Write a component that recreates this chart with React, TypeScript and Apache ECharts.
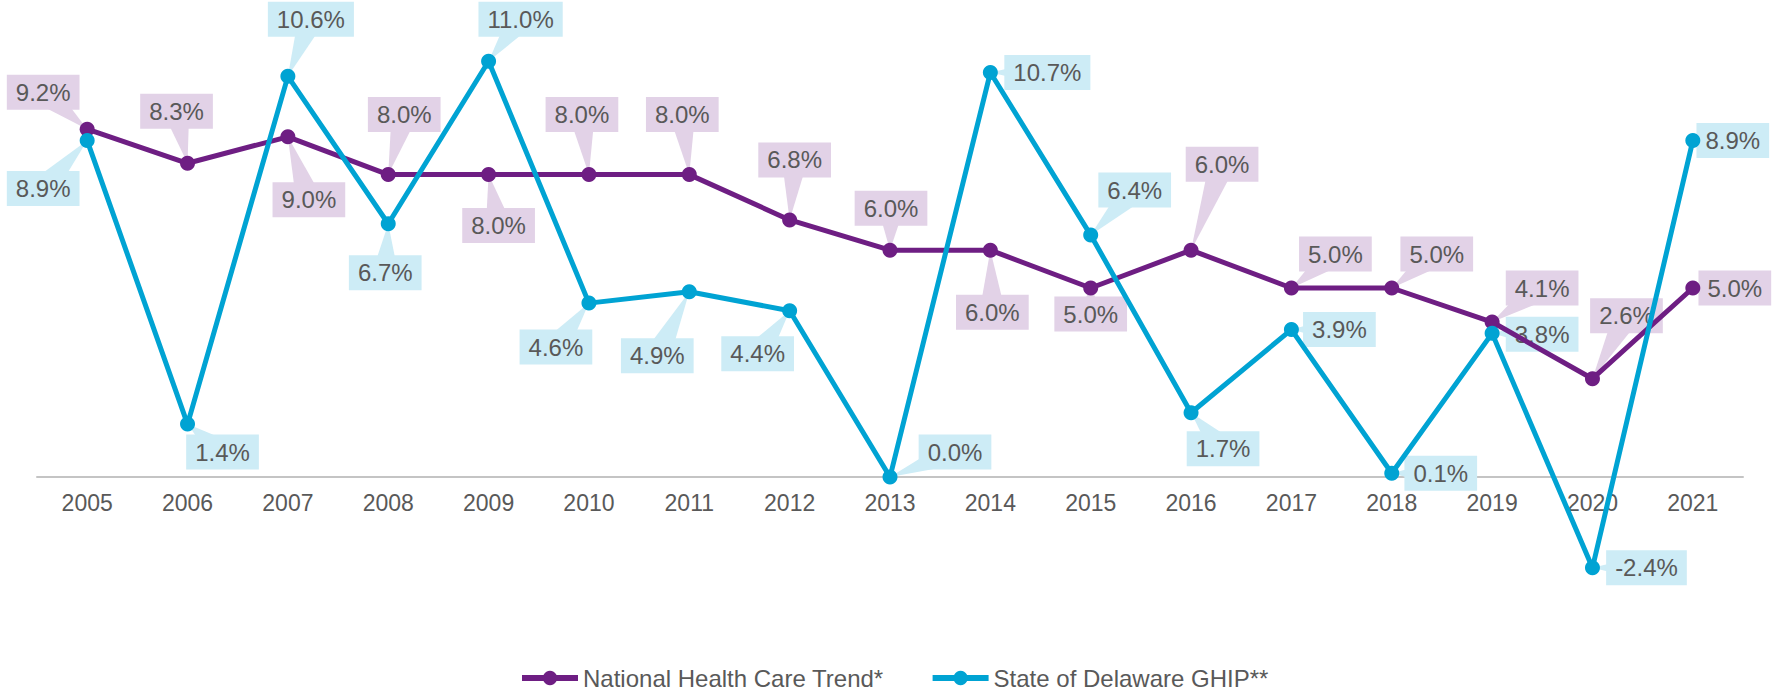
import React, { useEffect, useRef } from "react";
import * as echarts from "echarts";

const years = ["2005","2006","2007","2008","2009","2010","2011","2012","2013","2014","2015","2016","2017","2018","2019","2020","2021"];
const nationalTrend = [9.2, 8.3, 9.0, 8.0, 8.0, 8.0, 8.0, 6.8, 6.0, 6.0, 5.0, 6.0, 5.0, 5.0, 4.1, 2.6, 5.0];
const delawareGhip = [8.9, 1.4, 10.6, 6.7, 11.0, 4.6, 4.9, 4.4, 0.0, 10.7, 6.4, 1.7, 3.9, 0.1, 3.8, -2.4, 8.9];

// callout offsets (label centre relative to the point, px)
const nationalOffsets = [[-44,-37],[-11,-52],[21,63],[16,-60],[10,51],[-7,-60],[-7,-60],[5,-60],[1,-42],[2,62],[0,26],[31,-86],[44,-34],[45,-34],[50,-34],[34,-63],[42,0]];
const delawareOffsets = [[-44,48],[35,28],[23,-57],[-3,49],[32,-42],[-33,44],[-32,64],[-32,43],[65,-25],[57,0],[44,-45],[32,36],[48,0],[49,0],[50,1],[54,0],[40,0]];

const PURPLE = "#6E1E83";
const BLUE = "#00A3D3";
const PURPLE_BG = "#E2D2E7";
const BLUE_BG = "#CDECF6";
const TEXT = "#595959";
const FONT = "'Liberation Sans', Arial, sans-serif";

function calloutSeries(values: number[], offsets: number[][], bg: string) {
  return {
    type: "custom",
    z: 1,
    silent: true,
    clip: false,
    encode: { x: 0, y: 1 },
    data: values.map((v, i) => [i, v, offsets[i][0], offsets[i][1]]),
    renderItem: (params: any, api: any) => {
      const idx = api.value(0);
      const val = api.value(1);
      const dx = api.value(2);
      const dy = api.value(3);
      const p = api.coord([idx, val]);
      const cx = p[0] + dx;
      const cy = p[1] + dy;
      const len = Math.hypot(dx, dy) || 1;
      const nx = (-dy / len) * 13;
      const ny = (dx / len) * 13;
      return {
        type: "group",
        children: [
          {
            type: "polygon",
            shape: { points: [[p[0], p[1]], [cx + nx, cy + ny], [cx - nx, cy - ny]] },
            style: { fill: bg },
          },
          {
            type: "text",
            x: cx,
            y: cy,
            style: {
              text: Number(val).toFixed(1) + "%",
              fill: TEXT,
              font: "24px " + FONT,
              align: "center",
              verticalAlign: "middle",
              backgroundColor: bg,
              padding: [6, 9, 5, 9],
            },
          },
        ],
      };
    },
  };
}

export default function App() {
  const ref = useRef<HTMLDivElement>(null);
  useEffect(() => {
    if (!ref.current) return;
    const chart = echarts.init(ref.current, undefined, { renderer: "svg" });
    chart.setOption({
      animation: false,
      backgroundColor: "#ffffff",
      grid: { left: 37, right: 36, top: 23.4, bottom: 214 },
      legend: {
        data: ["National Health Care Trend*", "State of Delaware GHIP**"],
        left: 519,
        top: 666,
        padding: 0,
        itemWidth: 56,
        itemHeight: 18,
        itemGap: 46,
        lineStyle: { width: 6 },
        textStyle: {
          color: TEXT,
          fontSize: 24,
          fontFamily: FONT,
        },
      },
      xAxis: {
        type: "category",
        data: years,
        boundaryGap: true,
        axisLine: { show: true, lineStyle: { color: "#C4C4C4", width: 2 } },
        axisTick: { show: false },
        axisLabel: {
          color: TEXT,
          fontSize: 23,
          fontFamily: FONT,
          margin: 14,
          interval: 0,
        },
        splitLine: { show: false },
      },
      yAxis: {
        type: "value",
        min: 0,
        max: 12,
        show: false,
        splitLine: { show: false },
      },
      series: [
        calloutSeries(nationalTrend, nationalOffsets, PURPLE_BG),
        calloutSeries(delawareGhip, delawareOffsets, BLUE_BG),
        {
          name: "National Health Care Trend*",
          type: "line",
          data: nationalTrend,
          z: 3,
          clip: false,
          symbol: "circle",
          symbolSize: 15,
          showAllSymbol: true,
          lineStyle: { color: PURPLE, width: 5 },
          itemStyle: { color: PURPLE },
        },
        {
          name: "State of Delaware GHIP**",
          type: "line",
          data: delawareGhip,
          z: 4,
          clip: false,
          symbol: "circle",
          symbolSize: 15,
          showAllSymbol: true,
          lineStyle: { color: BLUE, width: 5 },
          itemStyle: { color: BLUE },
        },
      ],
    });
    return () => chart.dispose();
  }, []);
  return (
    <div
      ref={ref}
      style={{ position: "fixed", left: 0, top: 0, width: 1779, height: 691 }}
    />
  );
}
